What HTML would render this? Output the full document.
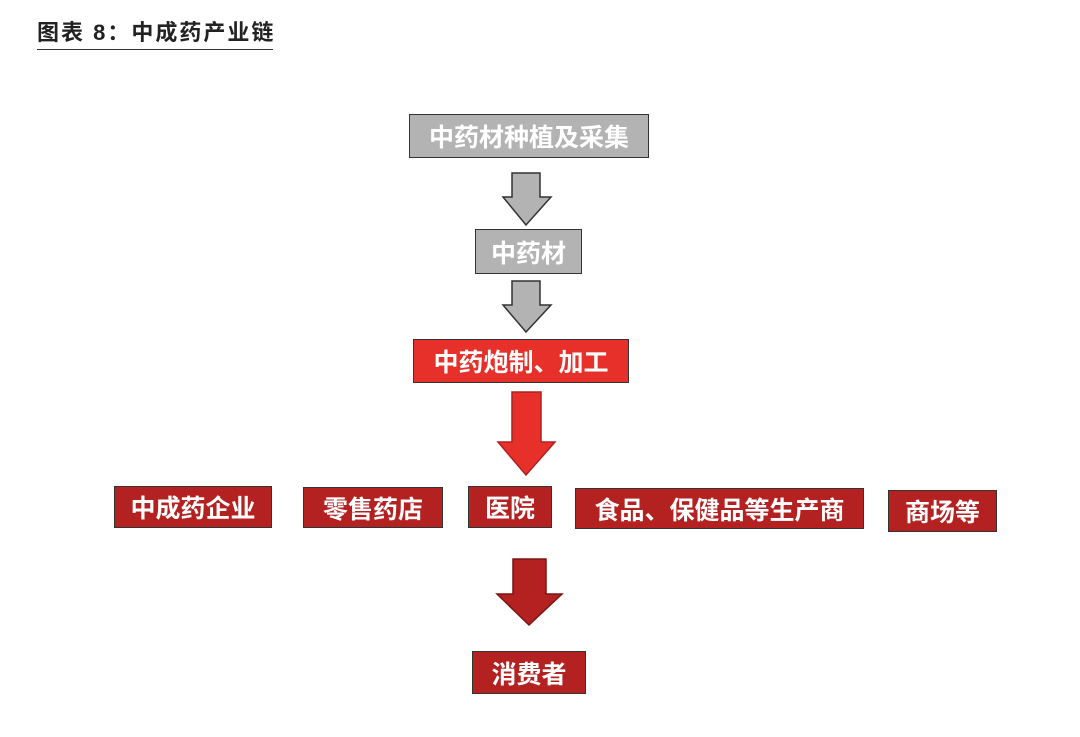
<!DOCTYPE html>
<html><head><meta charset="utf-8"><style>
body{margin:0;width:1080px;height:737px;background:#fff;position:relative;overflow:hidden;font-family:"Liberation Sans","Noto Sans CJK SC",sans-serif}
.t{position:absolute;left:37px;top:15px;font-size:22px;font-weight:bold;color:#222;border-bottom:1.5px solid #333;padding-bottom:2px;white-space:nowrap;letter-spacing:2px;width:236px}
.b{position:absolute;box-sizing:border-box;border:1.5px solid #333;color:#fff;font-size:25px;font-weight:bold;display:flex;align-items:center;justify-content:center;white-space:nowrap}
.g{background:#b3b3b3}.r{background:#e8302a}.d{background:#b32220}
svg{position:absolute;left:0;top:0}
</style></head><body>
<div class="t">图表 8：中成药产业链</div>
<div class="b g" style="left:409px;top:114px;width:240px;height:44px">中药材种植及采集</div>
<div class="b g" style="left:475px;top:229px;width:107px;height:45px">中药材</div>
<div class="b r" style="left:413px;top:339px;width:216px;height:44px">中药炮制、加工</div>
<div class="b d" style="left:114px;top:486px;width:158px;height:42px">中成药企业</div>
<div class="b d" style="left:303px;top:487px;width:140px;height:41px">零售药店</div>
<div class="b d" style="left:468px;top:486px;width:84px;height:42px">医院</div>
<div class="b d" style="left:575px;top:488px;width:289px;height:41px">食品、保健品等生产商</div>
<div class="b d" style="left:888px;top:490px;width:109px;height:42px">商场等</div>
<div class="b d" style="left:472px;top:651px;width:114px;height:43px">消费者</div>
<svg width="1080" height="737">
<polygon points="512,173 540,173 540,197 551,197 526,225 503,197 512,197" fill="#b3b3b3" stroke="#333" stroke-width="1.5"/>
<polygon points="512,281 540,281 540,305 551,305 526,332 503,305 512,305" fill="#b3b3b3" stroke="#333" stroke-width="1.5"/>
<polygon points="512,392 541,392 541,442 555,442 526,475 498,442 512,442" fill="#e8302a" stroke="#b02020" stroke-width="1.5"/>
<polygon points="513,559 546,559 546,594 562,594 529,625 497,594 513,594" fill="#b32220" stroke="#7a1515" stroke-width="1.5"/>
</svg>
</body></html>
